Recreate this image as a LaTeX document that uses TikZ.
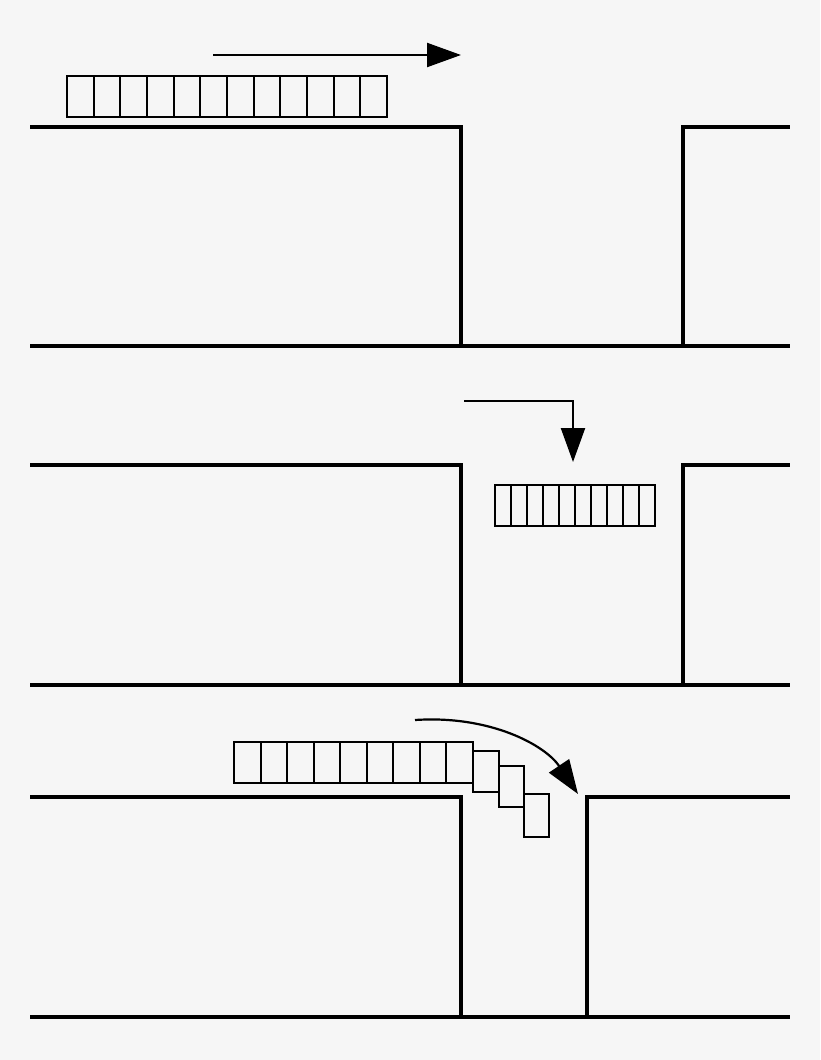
\documentclass[tikz,border=0pt]{standalone}
\usetikzlibrary{arrows.meta}

\begin{document}
\begin{tikzpicture}[
    x=1pt, y=-1pt,
    wall/.style={line width=3.2pt, line join=miter},
    wagon/.style={draw, line width=2pt},
    move/.style={line width=2.2pt, -{Triangle[length=34pt, width=24pt]}}
]
    \useasboundingbox[fill={rgb,255:red,246;green,246;blue,246}] (0,0) rectangle (820,1060);

    % Panel 1: the train runs along the top
    \draw[wall] (30,127) -- (461,127) -- (461,346);
    \draw[wall] (30,346) -- (790,346);
    \draw[wall] (683,346) -- (683,127) -- (790,127);
    \foreach \i in {0,...,11}
        \draw[wagon] ({67+\i*26.67},76) rectangle ({67+(\i+1)*26.67},117);
    \coordinate (a1) at (213,55);
    \coordinate (b1) at (461,55);
    \draw[move] (a1) -- (b1);

    % Panel 2: the train drops into the gap
    \draw[wall] (30,465) -- (461,465) -- (461,685);
    \draw[wall] (30,685) -- (790,685);
    \draw[wall] (683,685) -- (683,465) -- (790,465);
    \foreach \i in {0,...,9}
        \draw[wagon] ({495+\i*16},485) rectangle ({495+(\i+1)*16},526);
    \coordinate (a2) at (464,401);
    \coordinate (k2) at (573,401);
    \coordinate (b2) at (573,462);
    \draw[move] (a2) -- (k2) -- (b2);

    % Panel 3: the train bends over the edge
    \draw[wall] (30,797) -- (461,797) -- (461,1017);
    \draw[wall] (30,1017) -- (790,1017);
    \draw[wall] (587,1017) -- (587,797) -- (790,797);
    \foreach \i in {0,...,8}
        \draw[wagon] ({234+\i*26.56},742) rectangle ({234+(\i+1)*26.56},783);
    \draw[wagon] (473,751) rectangle (499,792);
    \draw[wagon] (499,766) rectangle (524,807);
    \draw[wagon] (524,794) rectangle (549,837);
    \coordinate (a3) at (415,720);
    \coordinate (b3) at (578,794);
    \draw[move] (a3) .. controls (490,715) and (545,745) .. (b3);
\end{tikzpicture}
\end{document}
